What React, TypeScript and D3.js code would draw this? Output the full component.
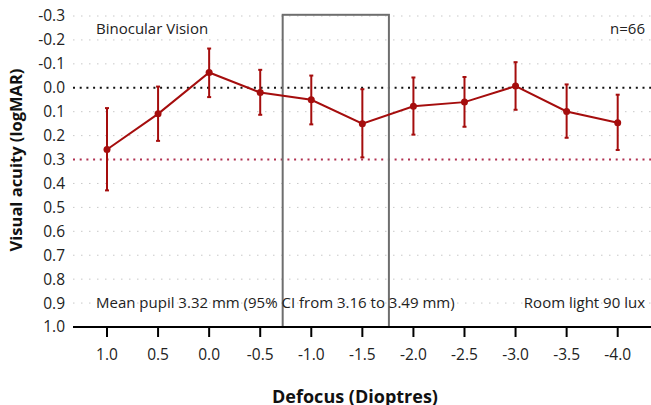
import React from "react";
import * as d3 from "d3";

const defocus = [1.0, 0.5, 0.0, -0.5, -1.0, -1.5, -2.0, -2.5, -3.0, -3.5, -4.0];
const acuity = [0.258, 0.109, -0.064, 0.02, 0.05, 0.15, 0.077, 0.06, -0.007, 0.099, 0.146];
const ciLow = [0.085, -0.005, -0.164, -0.075, -0.051, 0.006, -0.043, -0.045, -0.107, -0.014, 0.029];
const ciHigh = [0.429, 0.222, 0.039, 0.113, 0.153, 0.291, 0.196, 0.163, 0.092, 0.209, 0.26];
const yTicks = [-0.3, -0.2, -0.1, 0.0, 0.1, 0.2, 0.3, 0.4, 0.5, 0.6, 0.7, 0.8, 0.9, 1.0];
const xTicks = defocus;
const boxRange = [-0.72, -1.76];
const boxTop = -0.305;
const refZero = 0.0;
const refLimit = 0.3;

const W = 651;
const H = 405;
const FONT = "'Open Sans', 'Noto Sans', sans-serif";
const RED = "#a50d0d";

export default function App() {
  const x = d3.scaleLinear().domain([1.0, -4.0]).range([107, 617.7]);
  const y = d3.scaleLinear().domain([-0.3, 1.0]).range([16, 327]);
  const xLeft = 73;
  const xRight = 651;
  const line = d3
    .line<number>()
    .x((_, i) => x(defocus[i]))
    .y((d) => y(d));
  const fmt = (v: number) => (Math.abs(v) < 1e-9 ? "0.0" : d3.format(".1f")(v).replace("−", "-"));

  return (
    <svg width={W} height={H} style={{ position: "absolute", left: 0, top: 0, fontFamily: FONT }}>
      <rect width={W} height={H} fill="#fff" />
      {yTicks.map((t) => {
        const isZero = Math.abs(t - refZero) < 1e-9;
        const isLimit = Math.abs(t - refLimit) < 1e-9;
        const isBottom = t === 1.0;
        return (
          <g key={t}>
            {!isZero && !isLimit && !isBottom && (
              <line x1={xLeft} x2={xRight} y1={y(t)} y2={y(t)} stroke="#c8c8c8" strokeWidth={1} strokeDasharray="1.5 6.5" />
            )}
            <text x={65} y={y(t)} dy="0.35em" textAnchor="end" fontSize={15.5} fill="#222">
              {fmt(t)}
            </text>
          </g>
        );
      })}
      <line x1={xLeft} x2={xRight} y1={y(refZero)} y2={y(refZero)} stroke="#111" strokeWidth={2} strokeDasharray="2 4.7" />
      <line x1={xLeft} x2={xRight} y1={y(refLimit)} y2={y(refLimit)} stroke="#b03050" strokeWidth={2} strokeDasharray="2 4.7" />

      <rect
        x={x(boxRange[0])}
        y={y(boxTop)}
        width={x(boxRange[1]) - x(boxRange[0])}
        height={y(1.0) - y(boxTop)}
        fill="none"
        stroke="#6e6e6e"
        strokeWidth={2}
      />

      <line x1={xLeft} x2={xRight} y1={y(1.0)} y2={y(1.0)} stroke="#000" strokeWidth={2} />
      {xTicks.map((t) => (
        <g key={t}>
          <line x1={x(t)} x2={x(t)} y1={y(1.0)} y2={y(1.0) + 10} stroke="#000" strokeWidth={2} />
          <text x={x(t)} y={355} dy="0.35em" textAnchor="middle" fontSize={15.5} fill="#222">
            {fmt(t)}
          </text>
        </g>
      ))}

      <path d={line(acuity) || ""} fill="none" stroke={RED} strokeWidth={2} />
      {defocus.map((d, i) => (
        <g key={d}>
          <line x1={x(d)} x2={x(d)} y1={y(ciLow[i])} y2={y(ciHigh[i])} stroke={RED} strokeWidth={2} />
          <line x1={x(d) - 2} x2={x(d) + 2} y1={y(ciLow[i])} y2={y(ciLow[i])} stroke={RED} strokeWidth={2} />
          <line x1={x(d) - 2} x2={x(d) + 2} y1={y(ciHigh[i])} y2={y(ciHigh[i])} stroke={RED} strokeWidth={2} />
          <circle cx={x(d)} cy={y(acuity[i])} r={3.5} fill={RED} />
        </g>
      ))}

      <text x={96} y={29} dy="0.35em" fontSize={15} fill="#222">Binocular Vision</text>
      <text x={645} y={29} dy="0.35em" textAnchor="end" fontSize={15} fill="#222">n=66</text>
      <text x={96} y={303} dy="0.35em" fontSize={15} fill="#222">Mean pupil 3.32 mm (95% CI from 3.16 to 3.49 mm)</text>
      <text x={645} y={303} dy="0.35em" textAnchor="end" fontSize={15} fill="#222">Room light 90 lux</text>

      <text
        transform={`translate(16, 160) rotate(-90)`}
        textAnchor="middle"
        dy="0.35em"
        fontSize={16.5}
        fontWeight="bold"
        fill="#111"
      >
        Visual acuity (logMAR)
      </text>
      <text x={355} y={403} textAnchor="middle" fontSize={18} fontWeight="bold" fill="#111">
        Defocus (Dioptres)
      </text>
    </svg>
  );
}
